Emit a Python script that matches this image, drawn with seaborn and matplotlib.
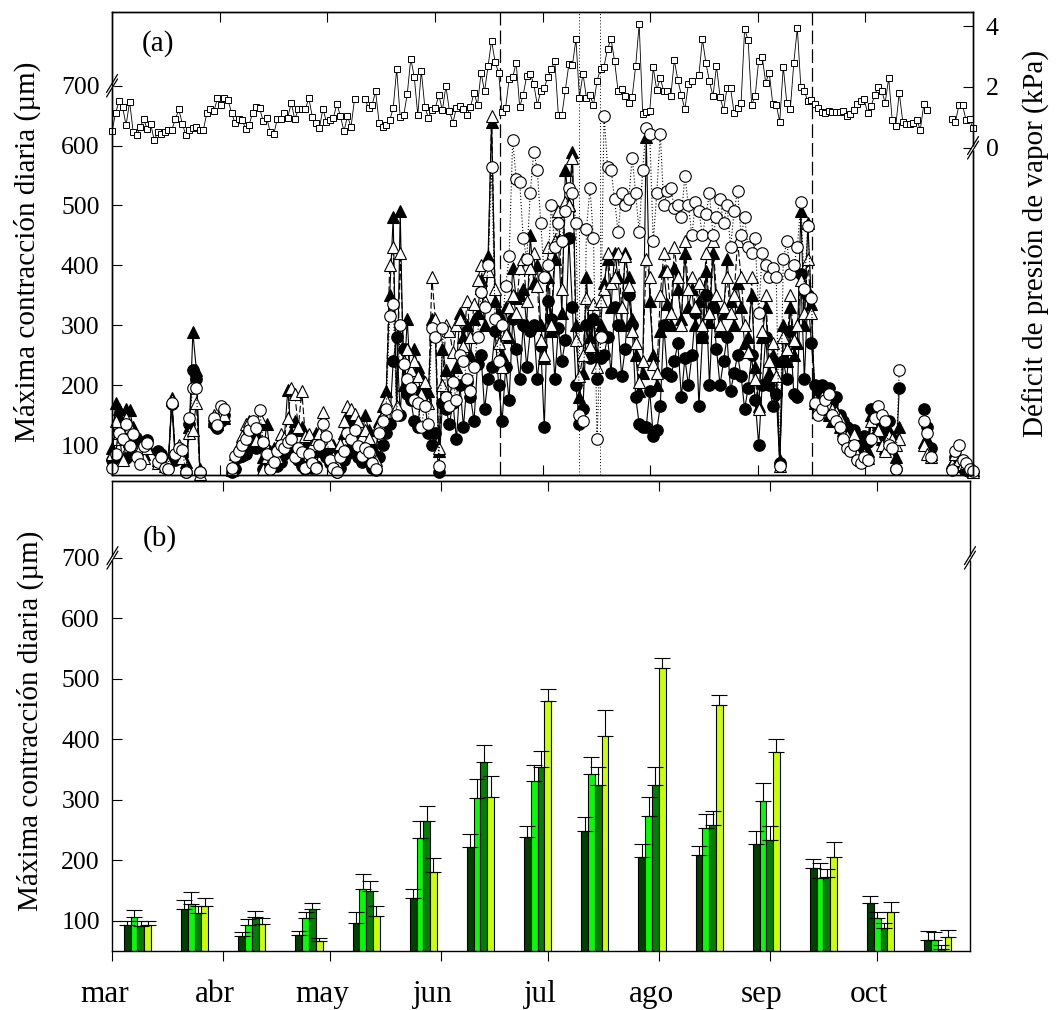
import numpy as np
import pandas as pd
import matplotlib
matplotlib.use("Agg")
import matplotlib.pyplot as plt
import matplotlib.transforms as mtransforms
import seaborn as sns

nan = np.nan

# ---------------------------------------------------------------------------
# Calendar (day 0 = 1 March)
# ---------------------------------------------------------------------------
MONTHS = ["mar", "abr", "may", "jun", "jul", "ago", "sep", "oct"]
MONTH_START_DAY = [0, 31, 61, 92, 122, 153, 184, 214]

# Irrigation-season markers drawn across panel (a), in days
SEASON_LIMITS = [110.4, 199.2]
EVENT_DAYS = [132.9, 138.9]

# ---------------------------------------------------------------------------
# (a) Daily maximum trunk shrinkage (um), one value per day, nan = no record
# ---------------------------------------------------------------------------
MDS_FILLED_CIRCLE = [
    75, 80, 140, 110, 78, 100, 92, 95, 105, 100,
    108, nan, nan, 90, 85, 72, 68, 168, 75, 80,
    85, 55, 135, 225, 210, 55, nan, nan, nan, 135,
    128, 140, 150, nan, 55, 60, 80, 82, 85, 95,
    110, 95, 100, 60, 62, 70, 75, 65, 72, 85,
    95, 100, 90, 75, 65, 60, 100, 62, 65, 90,
    110, 80, 70, 65, 55, 62, 75, 85, 95, 100,
    80, 72, 90, 85, 62, 58, 80, 100, 120, 135,
    240, 280, 150, 260, 185, 175, 140, 130, 190, 175,
    120, 100, 120, 55, 170, 160, 135, 170, 110, 200,
    130, 205, 180, 140, 235, 250, 160, 210, 230, 290,
    200, 140, 230, 175, 310, 260, 210, 300, 230, 290,
    300, 210, 265, 130, 340, 310, 210, 295, 240, 275,
    445, 330, 200, 135, 160, 300, 245, 310, 210, 245,
    250, 280, 220, 330, 300, 215, 260, 350, 300, 180,
    135, 130, 130, 190, 115, 125, 165, 300, 220, 215,
    240, 270, 180, 245, 200, 250, 320, 165, 280, 350,
    200, 330, 260, 200, 240, 280, 190, 220, 250, 215,
    160, 195, 250, 175, 100, 200, 280, 200, 165, 185,
    70, 240, 210, 290, 185, 180, 385, 210, 350, 270,
    200, 185, 200, 180, 195, 170, 180, 150, 140, 130,
    120, 125, 110, 100, 115, 105, 160, 140, 155, 130,
    105, 140, 110, 60, 195, nan, nan, nan, nan, nan,
    nan, 160, 130, 95, nan, nan, nan, nan, nan, 60,
    80, 72, 62, 58, 55, 55,
]

MDS_FILLED_TRIANGLE = [
    95, 170, 160, 120, 160, 158, 130, 105, 110, 85,
    100, nan, nan, 75, 80, 70, 72, 178, 80, 95,
    90, 72, 130, 288, 225, 60, nan, nan, nan, 140,
    135, 150, 145, nan, 60, 70, 90, 95, 100, 120,
    140, 118, 135, 80, 135, 90, 95, 85, 110, 110,
    192, 120, 140, 125, 130, 100, 110, 90, 120, 100,
    108, 95, 90, 100, 85, 95, 120, 150, 140, 130,
    110, 105, 150, 125, 100, 85, 140, 165, 190, 350,
    480, 155, 490, 200, 310, 200, 260, 230, 215, 180,
    190, 310, 285, 90, 260, 225, 180, 210, 230, 320,
    280, 300, 250, 310, 320, 375, 300, 415, 640, 340,
    320, 250, 330, 280, 395, 345, 350, 360, 300, 450,
    370, 400, 300, 245, 380, 290, 410, 440, 320, 560,
    500, 590, 300, 180, 220, 380, 280, 310, 250, 300,
    370, 410, 330, 420, 380, 300, 420, 380, 310, 250,
    190, 220, 615, 340, 250, 200, 290, 390, 335, 300,
    395, 360, 310, 420, 330, 360, 300, 340, 280, 390,
    305, 420, 330, 290, 320, 410, 340, 300, 370, 330,
    270, 280, 350, 230, 165, 280, 330, 220, 250, 240,
    75, 300, 240, 330, 250, 270, 490, 300, 470, 335,
    170, 155, 190, 160, 150, 140, 145, 130, 125, 110,
    100, 110, 90, 80, 95, 90, 150, 120, 130, 110,
    95, 125, 115, 80, 130, nan, nan, nan, nan, nan,
    nan, 105, 110, 85, nan, nan, nan, nan, nan, 70,
    75, 78, 65, 62, 60, 58,
]

MDS_OPEN_TRIANGLE = [
    85, 140, 120, 75, 145, 130, 100, 90, 95, 78,
    95, nan, nan, 70, 75, 65, 70, 175, 90, 100,
    78, 60, 120, 125, 170, 52, nan, nan, nan, 150,
    140, 155, 150, nan, 58, 85, 100, 115, 135, 140,
    130, 108, 145, 60, 80, 72, 85, 80, 118, 112,
    145, 195, 185, 130, 190, 115, 118, 100, 110, 120,
    155, 110, 105, 80, 68, 102, 140, 165, 160, 152,
    140, 115, 125, 112, 90, 75, 135, 150, 175, 400,
    430, 165, 420, 240, 260, 225, 240, 215, 185, 205,
    170, 380, 310, 95, 200, 300, 290, 255, 300, 310,
    265, 340, 280, 335, 375, 400, 340, 390, 650, 360,
    270, 230, 285, 330, 350, 320, 395, 410, 340, 395,
    420, 365, 275, 250, 430, 300, 440, 490, 360, 505,
    500, 580, 275, 215, 250, 345, 265, 335, 230, 340,
    360, 420, 370, 380, 420, 330, 415, 365, 290, 270,
    205, 240, 410, 380, 235, 220, 350, 420, 390, 320,
    430, 380, 300, 440, 360, 380, 330, 370, 300, 420,
    320, 440, 350, 300, 330, 380, 320, 350, 440, 380,
    300, 255, 380, 210, 160, 290, 350, 240, 270, 215,
    65, 280, 260, 350, 275, 300, 375, 320, 410, 320,
    175, 165, 180, 170, 165, 160, 155, 145, 120, 115,
    105, 118, 85, 75, 85, 78, 140, 115, 125, 100,
    90, 115, 110, 100, 110, nan, nan, nan, nan, nan,
    nan, 100, 85, 80, nan, nan, nan, nan, nan, 68,
    85, 75, 68, 70, 62, 55,
]

MDS_OPEN_CIRCLE = [
    62, 85, 120, 110, 135, 98, 118, 80, 68, 98,
    103, nan, nan, 72, 80, 62, 60, 170, 85, 95,
    92, 55, 145, 195, 195, 55, nan, nan, nan, 145,
    133, 165, 160, nan, 62, 82, 90, 100, 110, 125,
    140, 128, 158, 105, 85, 60, 72, 90, 100, 95,
    105, 110, 80, 95, 88, 62, 85, 70, 62, 100,
    135, 115, 75, 62, 55, 80, 90, 120, 110, 125,
    98, 82, 95, 88, 70, 60, 120, 140, 160, 315,
    335, 150, 300, 235, 210, 195, 175, 170, 130, 165,
    135, 295, 280, 65, 295, 180, 165, 205, 175, 250,
    240, 210, 190, 230, 280, 355, 330, 400, 565, 310,
    240, 300, 365, 415, 610, 545, 540, 445, 410, 520,
    590, 560, 470, 380, 400, 500, 430, 470, 440, 490,
    530, 520, 470, 150, 140, 460, 530, 445, 110, 280,
    650, 565, 560, 510, 455, 520, 500, 510, 580, 520,
    455, 560, 630, 620, 440, 520, 620, 500, 525, 530,
    495, 500, 480, 550, 500, 450, 505, 490, 450, 485,
    520, 450, 480, 510, 470, 500, 430, 490, 525, 450,
    480, 430, 420, 445, 320, 420, 400, 380, 395, 380,
    65, 410, 440, 385, 400, 430, 505, 360, 465, 345,
    170, 150, 160, 175, 185, 150, 140, 130, 110, 95,
    90, 100, 75, 70, 80, 75, 110, 145, 165, 150,
    140, 100, 95, 60, 225, nan, nan, nan, nan, nan,
    nan, 140, 120, 80, nan, nan, nan, nan, nan, 58,
    90, 100, 75, 70, 60, 56,
]

# ---------------------------------------------------------------------------
# (a) Daily vapour pressure deficit (kPa), stored as uninterrupted runs
# ---------------------------------------------------------------------------
VPD_RUN_START = [0, 72, 167, 239]
VPD_RUN_1 = [
    0.55, 1.13, 1.54, 1.34, 0.74, 1.52, 0.53, 0.41, 0.68, 0.93,
    0.63, 0.79, 0.24, 0.52, 0.46, 0.52, 0.57, 0.59, 0.93, 1.26,
    0.79, 0.41, 0.60, 0.65, 0.68, 0.60, 0.60, 1.15, 1.26, 1.21,
    1.62, 1.40, 1.62, 1.58, 1.15, 0.81, 0.93, 0.92, 0.63, 0.75,
    1.15, 1.35, 1.30, 0.88, 0.99, 0.52, 0.44, 0.93, 0.93, 1.13,
    0.99, 1.48, 0.93, 1.26, 1.26, 1.27, 1.63, 1.01, 0.82, 0.64,
    1.29, 0.85, 0.90, 0.99, 1.45, 1.03, 0.55, 1.04, 0.68, 1.60,
]
VPD_RUN_2 = [
    1.59, 1.30, 1.41, 1.85, 0.82, 0.68, 0.74, 0.90, 1.30, 2.59,
    1.01, 1.07, 1.76, 2.93, 2.33, 1.07, 2.53, 1.34, 0.99, 1.23,
    1.32, 1.73, 1.23, 2.03, 1.21, 0.82, 1.32, 1.38, 1.26, 1.07,
    1.34, 1.81, 1.41, 2.47, 1.85, 2.69, 3.52, 2.82, 2.47, 1.19,
    1.32, 2.27, 2.31, 2.80, 1.34, 1.74, 2.36, 2.44, 2.09, 1.41,
    1.85, 1.96, 2.33, 2.58, 2.86, 1.08, 1.08, 1.91, 2.75, 2.71,
    3.57, 1.65, 2.44, 1.63, 1.73, 1.40, 2.20, 2.58, 2.67, 3.26,
    3.57, 2.85, 1.85, 1.92, 1.70, 1.48, 1.67, 2.69, 4.07, 1.10,
    1.18, 1.21, 2.64, 1.89, 2.29, 1.85, 1.85, 1.70, 2.88, 2.22,
    1.73, 1.26, 2.11, 2.20,
]
VPD_RUN_3 = [
    2.40, 3.57, 2.77, 2.18, 1.70, 2.69, 1.68, 1.23, 1.96, 1.96,
    1.15, 1.30, 1.48, 3.90, 3.54, 1.41, 1.70, 2.86, 2.99, 2.14,
    2.47, 1.45, 1.41, 0.86, 2.67, 1.48, 1.26, 2.80, 3.93, 2.00,
    1.85, 1.54, 1.56, 1.45, 1.30, 1.19, 1.15, 1.21, 1.18, 1.19,
    1.18, 1.21, 1.03, 1.10, 1.23, 1.43, 1.54, 1.59, 1.15, 1.37,
    1.73, 2.00, 1.87, 1.48, 2.29, 0.91, 0.71, 1.81, 0.86, 0.79,
    0.79, 0.82, 0.90, 0.60, 1.43, 1.25,
]
VPD_RUN_4 = [0.96, 0.86, 1.41, 1.41, 0.91, 0.93, 0.64]

# ---------------------------------------------------------------------------
# (b) 16-day means and standard errors of maximum daily shrinkage (um)
# ---------------------------------------------------------------------------
PERIOD_START_DAY = [0, 16, 32, 48, 64, 80, 96, 112, 128, 144, 160, 176, 192, 208, 224]
TREATMENTS = ["T1", "T2", "T3", "T4"]
MEAN_T1 = [93, 119, 75, 77, 97, 138, 222, 238, 249, 206, 209, 227, 188, 130, 69]
MEAN_T2 = [107, 128, 93, 105, 153, 237, 303, 331, 342, 273, 254, 298, 171, 104, 69]
MEAN_T3 = [92, 113, 106, 120, 150, 265, 363, 355, 324, 324, 259, 233, 173, 88, 53]
MEAN_T4 = [93, 124, 95, 67, 108, 181, 304, 463, 405, 518, 457, 379, 205, 115, 73]
SE_T1 = [7, 16, 7, 6, 17, 15, 21, 19, 22, 21, 15, 22, 14, 11, 14]
SE_T2 = [10, 19, 10, 9, 25, 28, 31, 26, 28, 32, 22, 30, 25, 11, 13]
SE_T3 = [8, 11, 10, 10, 16, 25, 27, 25, 30, 30, 23, 23, 13, 8, 7]
SE_T4 = [7, 14, 10, 5, 17, 22, 35, 21, 44, 16, 16, 21, 26, 16, 11]
BAR_COLORS = ["#004000", "#00ff00", "#008000", "#ccff00"]

# ---------------------------------------------------------------------------
sns.set_style("ticks")
plt.rcParams.update({
    "font.family": ["Liberation Serif", "DejaVu Serif"],
    "text.color": "black",
    "axes.labelcolor": "black",
    "xtick.color": "black",
    "ytick.color": "black",
    "axes.edgecolor": "black",
    "axes.linewidth": 1.0,
})

TICK_FS = 18.5
LABEL_FS = 21
MONTH_FS = 22.5

fig = plt.figure(figsize=(10.61, 10.10), dpi=100)
ax_a = fig.add_axes([0.1056, 0.5297, 0.8115, 0.4584])
ax_b = fig.add_axes([0.1060, 0.0584, 0.8082, 0.4653])
ax_v = ax_a.twinx()

Y_LIM = (50, 823)
SEASON_LEN = 245


def daily_frame(values, start=0):
    df = pd.DataFrame({"day": start + np.arange(len(values)), "value": values})
    df["run"] = df["value"].isna().cumsum()
    return df.dropna()


def spine_break(ax, xa, ya):
    """Two short parallel slashes across a spine at axes fraction (xa, ya)."""
    pos = ax.get_position()
    wpx = pos.width * fig.get_figwidth() * fig.dpi
    hpx = pos.height * fig.get_figheight() * fig.dpi
    dx, dy, gap = 5.5 / wpx, 9.0 / hpx, 4.5 / hpx
    kw = dict(transform=ax.transAxes, clip_on=False, zorder=20)
    ax.plot([xa, xa], [ya - gap / 2, ya + gap / 2], color="white", lw=2.5,
            solid_capstyle="butt", **kw)
    for off in (-gap / 2, gap / 2):
        ax.plot([xa - dx, xa + dx], [ya + off - dy, ya + off + dy],
                color="black", lw=0.9, **kw)


# ---------------------------- panel (a) ------------------------------------
series_styles = [
    (MDS_FILLED_CIRCLE, "o", "black", "-", 8.3),
    (MDS_FILLED_TRIANGLE, "^", "black", "-", 8.8),
    (MDS_OPEN_TRIANGLE, "^", "white", (0, (6, 2.5)), 8.8),
    (MDS_OPEN_CIRCLE, "o", "white", (0, (1, 1.8)), 8.3),
]
for values, marker, face, ls, ms in series_styles:
    sns.lineplot(data=daily_frame(values), x="day", y="value", units="run",
                 estimator=None, sort=True, ax=ax_a, color="black",
                 linewidth=0.8, linestyle=ls, marker=marker, markersize=ms,
                 markerfacecolor=face, markeredgecolor="black",
                 markeredgewidth=0.8, clip_on=False, legend=False)

for d in SEASON_LIMITS:
    ax_a.axvline(d, color="black", lw=0.9, ls=(0, (11, 4)), zorder=1)
for d in EVENT_DAYS:
    ax_a.axvline(d, color="black", lw=0.7, ls=(0, (1, 2.2)), zorder=1)

vpd = pd.concat([
    daily_frame(run, start).assign(run=i)
    for i, (start, run) in enumerate(zip(VPD_RUN_START,
                                         [VPD_RUN_1, VPD_RUN_2, VPD_RUN_3, VPD_RUN_4]))
])
sns.lineplot(data=vpd, x="day", y="value", units="run", estimator=None,
             sort=True, ax=ax_v, color="black", linewidth=0.6, marker="s",
             markersize=3.8, markerfacecolor="white", markeredgecolor="black",
             markeredgewidth=0.7, clip_on=False, legend=False)

ax_a.set_xlim(0, SEASON_LEN)
ax_a.set_ylim(*Y_LIM)
ax_a.set_yticks([100, 200, 300, 400, 500, 600, 700])
ax_a.set_xticks(np.linspace(0, SEASON_LEN, len(MONTHS) + 1)[1:-1])
ax_a.tick_params(axis="x", direction="in", top=True, bottom=True,
                 labelbottom=False, length=7, width=0.8)
ax_a.tick_params(axis="y", direction="in", left=True, right=False,
                 length=7, width=0.8, labelsize=TICK_FS, pad=9)
ax_a.set_xlabel("")
ax_a.set_ylabel("Máxima contracción diaria (µm)", fontsize=LABEL_FS)
ax_a.yaxis.set_label_coords(-0.082, 0.482)

ax_v.set_ylim(-10.75, 4.46)
ax_v.set_yticks([0, 2, 4])
ax_v.tick_params(axis="y", direction="in", right=True, left=False,
                 length=7, width=0.8, labelsize=TICK_FS, pad=9)
ax_v.set_xlabel("")
ax_v.set_ylabel("Déficit de presión de vapor (kPa)", fontsize=LABEL_FS)
ax_v.yaxis.set_label_position("right")
ax_v.yaxis.set_label_coords(1.057, 0.5)

ax_a.text(0.053, 0.933, "(a)", transform=ax_a.transAxes, fontsize=LABEL_FS,
          ha="center", va="center")

spine_break(ax_a, 0.0, (700 - Y_LIM[0]) / (Y_LIM[1] - Y_LIM[0]))
lo, hi = ax_v.get_ylim()
spine_break(ax_v, 1.0, (0 - lo) / (hi - lo))

# ---------------------------- panel (b) ------------------------------------
means = [MEAN_T1, MEAN_T2, MEAN_T3, MEAN_T4]
errors = [SE_T1, SE_T2, SE_T3, SE_T4]
bars = pd.DataFrame({
    "day": np.tile(np.array(PERIOD_START_DAY) + 7.0, len(TREATMENTS)),
    "mds": np.concatenate(means),
    "treatment": np.repeat(TREATMENTS, len(PERIOD_START_DAY)),
})
sns.barplot(data=bars, x="day", y="mds", hue="treatment", hue_order=TREATMENTS,
            palette=BAR_COLORS, native_scale=True, width=0.475, saturation=1,
            errorbar=None, edgecolor="black", linewidth=0.8, legend=False,
            ax=ax_b)

patches = ax_b.patches
n_per = len(PERIOD_START_DAY)
for i, se in enumerate(errors):
    group = patches[i * n_per:(i + 1) * n_per]
    xs = [p.get_x() + p.get_width() / 2 for p in group]
    ys = [p.get_height() for p in group]
    ax_b.errorbar(xs, ys, yerr=[np.zeros(n_per), se], fmt="none",
                  ecolor="black", elinewidth=0.8, capsize=6, capthick=0.8,
                  zorder=3)

BOTTOM_XMAX = 240
ax_b.set_xlim(0, BOTTOM_XMAX)
ax_b.set_ylim(50, 827)
ax_b.set_yticks([100, 200, 300, 400, 500, 600, 700])
ax_b.tick_params(axis="y", direction="in", left=True, right=False,
                 length=7, width=0.8, labelsize=TICK_FS, pad=9)
ax_b.set_xticks(MONTH_START_DAY)
ax_b.set_xticklabels([])
ax_b.tick_params(axis="x", direction="out", bottom=True, top=False,
                 length=7, width=0.8)
top_ax = ax_b.secondary_xaxis("top")
top_ax.set_xticks(MONTH_START_DAY[1:])
top_ax.tick_params(axis="x", direction="in", length=7, width=0.8,
                   labeltop=False)
ax_b.set_xlabel("")
ax_b.set_ylabel("Máxima contracción diaria (µm)", fontsize=LABEL_FS)
ax_b.yaxis.set_label_coords(-0.080, 0.49)

month_trans = mtransforms.offset_copy(
    mtransforms.blended_transform_factory(ax_b.transData, ax_b.transAxes),
    fig=fig, x=-5.8, y=0, units="points")
for name, d in zip(MONTHS, MONTH_START_DAY):
    ax_b.text(d, -0.1085, name, transform=month_trans, fontsize=MONTH_FS,
              ha="center", va="baseline", clip_on=False)

ax_b.text(0.055, 0.877, "(b)", transform=ax_b.transAxes, fontsize=LABEL_FS,
          ha="center", va="center")

ylo, yhi = ax_b.get_ylim()
yb = (700 - ylo) / (yhi - ylo)
spine_break(ax_b, 0.0, yb)
spine_break(ax_b, 1.0, yb)

fig.savefig("out.png", dpi=100)
